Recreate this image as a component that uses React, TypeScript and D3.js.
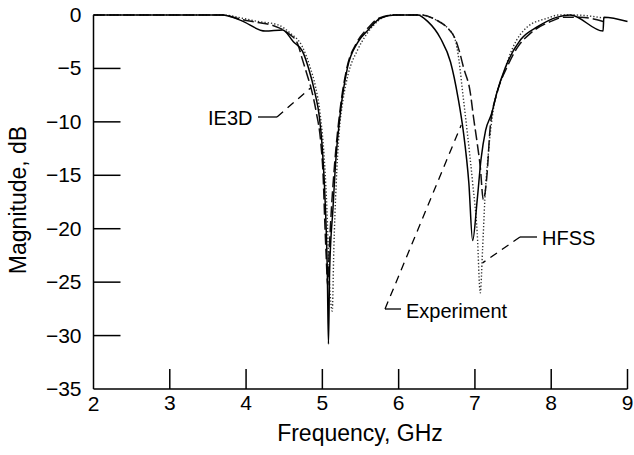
import React, { useEffect, useRef } from "react";
import * as d3 from "d3";

type Pt = [number, number];

// frequency (GHz), magnitude (dB)
const experiment: Pt[] = [
  [2, 0], [3, 0], [3.69, 0], [3.93, -0.5], [4.25, -1.5], [4.48, -1.4], [4.62, -2.5],
  [4.74, -3.4], [4.82, -5.0], [4.9, -7.2], [4.96, -9.5], [5.0, -12.5], [5.04, -18],
  [5.065, -24], [5.08, -30.8], [5.095, -24], [5.14, -18], [5.17, -14.2], [5.24, -8.9],
  [5.33, -4.9], [5.46, -2.6], [5.6, -1.4], [5.76, -0.3], [5.95, 0], [6.25, 0],
  [6.38, -0.6], [6.55, -2.2], [6.68, -4.4], [6.78, -7.8], [6.85, -11], [6.92, -15.7],
  [6.97, -21.1], [7.03, -17.3], [7.08, -13.5], [7.14, -10.8], [7.22, -9.2], [7.29, -7.2],
  [7.4, -4.9], [7.6, -2.3], [7.82, -1.1], [8.08, -0.2], [8.25, 0], [8.68, -1.5],
  [8.69, -0.2], [9, -0.6],
];

const ie3d: Pt[] = [
  [2, 0], [3, 0], [3.7, 0], [3.93, -0.4], [4.15, -0.7], [4.36, -1.0], [4.55, -1.7],
  [4.67, -2.6], [4.74, -4.2], [4.8, -5.6], [4.85, -6.8], [4.92, -9.1], [4.98, -12],
  [5.01, -15], [5.03, -19], [5.05, -22.5], [5.07, -25.3], [5.09, -22], [5.12, -18],
  [5.16, -14], [5.23, -9], [5.32, -5], [5.45, -2.6], [5.6, -1.2], [5.74, -0.3],
  [5.95, 0], [6.3, 0], [6.5, -0.5], [6.64, -1.2], [6.74, -2.2], [6.8, -3.5],
  [6.85, -4.9], [6.94, -7.3], [6.98, -9.5], [7.03, -12], [7.07, -14.2], [7.11, -17.3],
  [7.16, -14.8], [7.2, -10.5], [7.29, -7.3], [7.42, -4.9], [7.56, -3], [7.73, -1.7],
  [8.03, -0.5], [8.16, -0.2], [8.38, -0.2], [8.68, -0.6],
];

const hfss: Pt[] = [
  [2, 0], [3, 0], [3.7, 0], [3.95, -0.3], [4.15, -0.6], [4.41, -0.9], [4.58, -1.7],
  [4.74, -3], [4.84, -4.9], [4.91, -6.7], [4.97, -9.2], [5.03, -14], [5.06, -18.2],
  [5.09, -24.5], [5.13, -27.7], [5.15, -22], [5.18, -16], [5.22, -11], [5.27, -8],
  [5.34, -5.5], [5.46, -3.3], [5.59, -1.7], [5.74, -0.5], [5.9, 0], [6.3, 0],
  [6.5, -0.5], [6.64, -1.2], [6.74, -2.3], [6.79, -4.2], [6.84, -7.3], [6.9, -11],
  [6.97, -15.7], [7.03, -20.4], [7.07, -26], [7.1, -22], [7.13, -17.3], [7.18, -12.6],
  [7.24, -8.9], [7.36, -5.8], [7.5, -3], [7.69, -1.1], [7.95, -0.3], [8.1, 0],
  [8.3, 0], [8.7, -0.3],
];

const xTicks = [2, 3, 4, 5, 6, 7, 8, 9];
const yTicks = [0, -5, -10, -15, -20, -25, -30, -35];

// annotations: label, text anchor point, and point on the curve
const notes = [
  { label: "IE3D", tx: 208, ty: 125, elbow: [277, 117], end: [4.85, -6.8], kneeLeft: 258 },
  { label: "Experiment", tx: 406, ty: 318, elbow: [385, 309], end: [6.82, -10.3], kneeLeft: 401 },
  { label: "HFSS", tx: 542, ty: 245, elbow: [520, 237], end: [7.1, -23.2], kneeLeft: 537 },
];

const W = 634;
const H = 455;
const font = "'Liberation Sans', Arial, Helvetica, sans-serif";

const App = () => {
  const ref = useRef<SVGSVGElement>(null);

  useEffect(() => {
    const svg = d3.select(ref.current);
    svg.selectAll("*").remove();

    const x = d3.scaleLinear().domain([2, 9]).range([93.5, 627.5]);
    const y = d3.scaleLinear().domain([-35, 0]).range([389, 15]);

    const g = svg.append("g");

    // axes
    g.append("line")
      .attr("x1", x(2)).attr("x2", x(2))
      .attr("y1", y(0)).attr("y2", y(-35))
      .attr("stroke", "#000").attr("stroke-width", 1.5);
    g.append("line")
      .attr("x1", x(2)).attr("x2", x(9))
      .attr("y1", y(-35)).attr("y2", y(-35))
      .attr("stroke", "#000").attr("stroke-width", 1.5);

    g.selectAll(".ytick")
      .data(yTicks.filter((d) => d > -35 && d < 0))
      .enter()
      .append("line")
      .attr("x1", x(2)).attr("x2", x(2) + 27)
      .attr("y1", (d) => y(d)).attr("y2", (d) => y(d))
      .attr("stroke", "#000").attr("stroke-width", 1.5);

    g.selectAll(".xtick")
      .data(xTicks.filter((d) => d > 2))
      .enter()
      .append("line")
      .attr("x1", (d) => x(d)).attr("x2", (d) => x(d))
      .attr("y1", y(-35)).attr("y2", y(-35) - 20)
      .attr("stroke", "#000").attr("stroke-width", 1.5);

    g.selectAll(".ylab")
      .data(yTicks)
      .enter()
      .append("text")
      .attr("x", x(2) - 12)
      .attr("y", (d) => y(d) + 7)
      .attr("text-anchor", "end")
      .attr("font-family", font)
      .attr("font-size", 21)
      .text((d) => (d < 0 ? "\u2212" + Math.abs(d) : String(d)));

    g.selectAll(".xlab")
      .data(xTicks)
      .enter()
      .append("text")
      .attr("x", (d) => x(d))
      .attr("y", (d) => (d === 2 ? 411 : 410))
      .attr("text-anchor", "middle")
      .attr("font-family", font)
      .attr("font-size", 21)
      .text((d) => String(d));

    g.append("text")
      .attr("x", 360)
      .attr("y", 441)
      .attr("text-anchor", "middle")
      .attr("font-family", font)
      .attr("font-size", 23)
      .text("Frequency, GHz");

    g.append("text")
      .attr("transform", "translate(26,200) rotate(-90)")
      .attr("text-anchor", "middle")
      .attr("font-family", font)
      .attr("font-size", 23)
      .text("Magnitude, dB");

    const line = d3
      .line<Pt>()
      .x((d) => x(d[0]))
      .y((d) => y(d[1]))
      .curve(d3.curveMonotoneX);

    g.append("path")
      .datum(hfss)
      .attr("d", line)
      .attr("fill", "none")
      .attr("stroke", "#333")
      .attr("stroke-width", 1.4)
      .attr("stroke-dasharray", "1.3,2");

    g.append("path")
      .datum(ie3d)
      .attr("d", line)
      .attr("fill", "none")
      .attr("stroke", "#111")
      .attr("stroke-width", 1.5)
      .attr("stroke-dasharray", "11,4");

    g.append("path")
      .datum(experiment)
      .attr("d", line)
      .attr("fill", "none")
      .attr("stroke", "#000")
      .attr("stroke-width", 1.5);

    // annotation leaders
    notes.forEach((n) => {
      g.append("line")
        .attr("x1", n.kneeLeft).attr("x2", n.elbow[0])
        .attr("y1", n.elbow[1]).attr("y2", n.elbow[1])
        .attr("stroke", "#000").attr("stroke-width", 1.3);
      g.append("line")
        .attr("x1", n.elbow[0]).attr("y1", n.elbow[1])
        .attr("x2", x(n.end[0])).attr("y2", y(n.end[1]))
        .attr("stroke", "#000").attr("stroke-width", 1.3)
        .attr("stroke-dasharray", "8,6");
      g.append("text")
        .attr("x", n.tx)
        .attr("y", n.ty)
        .attr("font-family", font)
        .attr("font-size", 20)
        .text(n.label);
    });
  }, []);

  return (
    <svg
      ref={ref}
      width={W}
      height={H}
      style={{ position: "absolute", left: 0, top: 0, background: "#fff" }}
    ></svg>
  );
};

export default App;
